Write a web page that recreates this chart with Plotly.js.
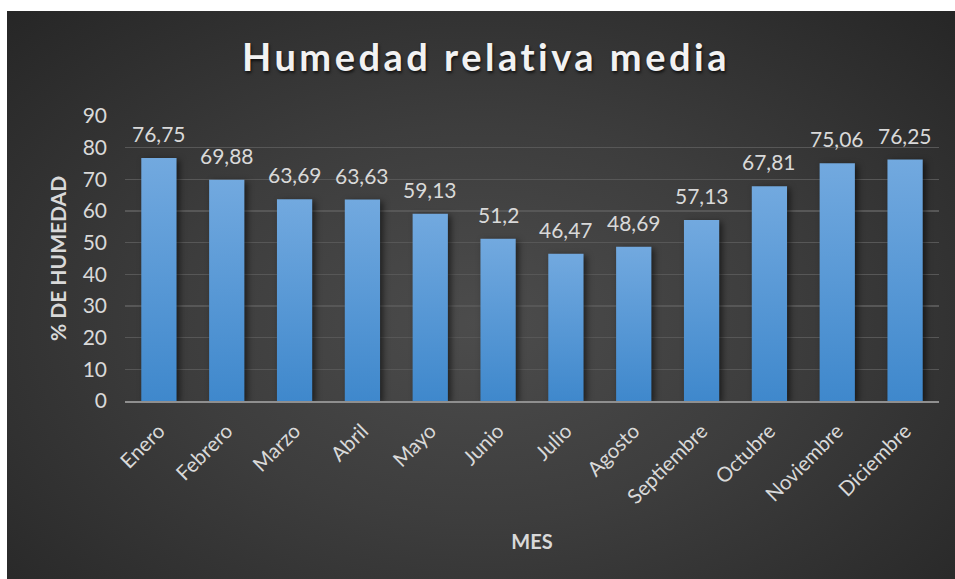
<!DOCTYPE html>
<html>
<head>
<meta charset="utf-8">
<script src="https://cdn.plot.ly/plotly-3.0.1.min.js"></script>
<style>
  html, body { margin: 0; padding: 0; background: #ffffff; }
  #wrap { position: relative; width: 955px; height: 579px; overflow: hidden; }
  #bg { position: absolute; left: 7px; top: 11px; right: 0; bottom: 0;
        background: radial-gradient(ellipse at 50% 55%, #4c4c4c 0%, #3d3d3d 45%, #262626 100%); }
  #chart { position: absolute; left: 0; top: 0; width: 955px; height: 579px; }
  .gtitle { letter-spacing: 3.5px; }
  .trace.bars .point path { fill: url(#barGrad) !important; filter: drop-shadow(3px 2px 3px rgba(0,0,0,0.55)); }
</style>
</head>
<body>
<svg width="0" height="0" style="position:absolute">
  <defs>
    <linearGradient id="barGrad" x1="0" y1="0" x2="0" y2="1">
      <stop offset="0%" stop-color="#72a9df"/>
      <stop offset="100%" stop-color="#3f88cc"/>
    </linearGradient>
  </defs>
</svg>
<div id="wrap">
  <div id="bg"></div>
  <div id="chart"></div>
</div>
<script>
const months = ['Enero','Febrero','Marzo','Abril','Mayo','Junio','Julio','Agosto','Septiembre','Octubre','Noviembre','Diciembre'];
const humidity = [76.75, 69.88, 63.69, 63.63, 59.13, 51.2, 46.47, 48.69, 57.13, 67.81, 75.06, 76.25];
const yTicks = [0,10,20,30,40,50,60,70,80,90];

const labels = humidity.map(v => String(v).replace('.', ','));
const txt = '#d9d9d9';
const fam = 'Lato, "Open Sans", sans-serif';

const valueLabels = months.map((m, i) => ({
  x: m, y: humidity[i], xref: 'x', yref: 'y',
  text: labels[i], showarrow: false,
  yanchor: 'bottom', yshift: 10,
  font: {family: fam, size: 21, color: txt}
}));

Plotly.newPlot('chart', [{
  type: 'bar',
  x: months,
  y: humidity,
  marker: {color: '#5898d6', line: {width: 0}},
  hoverinfo: 'x+y'
}], {
  width: 955, height: 579,
  paper_bgcolor: 'rgba(0,0,0,0)',
  plot_bgcolor: 'rgba(0,0,0,0)',
  margin: {l: 125, r: 16, t: 116, b: 178},
  bargap: 0.48,
  showlegend: false,
  annotations: valueLabels,
  title: {
    text: '<b>Humedad relativa media</b>',
    font: {family: fam, size: 38, color: '#f2f2f2', shadow: '1px 2px 3px rgba(0,0,0,0.7)'},
    x: 486/955, xref: 'container', xanchor: 'center',
    y: 1 - 58/579, yref: 'container', yanchor: 'middle'
  },
  xaxis: {
    tickangle: -45,
    tickfont: {family: fam, size: 20.5, color: txt},
    ticks: '', showgrid: false,
    showline: true, linecolor: '#8f8f8f', linewidth: 2,
    ticklabelstandoff: 8,
    title: {text: '<b>MES</b>', font: {family: fam, size: 20, color: txt}, standoff: 28}
  },
  yaxis: {
    range: [0, 90],
    tickvals: yTicks,
    tickfont: {family: fam, size: 21, color: txt},
    ticks: '', showline: false,
    gridcolor: '#575757', gridwidth: 1.5,
    zeroline: false,
    ticklabelstandoff: 17,
    title: {text: '<b>% DE HUMEDAD</b>', font: {family: fam, size: 21, color: txt}, standoff: 10}
  }
}, {displayModeBar: false, staticPlot: true});
</script>
</body>
</html>
